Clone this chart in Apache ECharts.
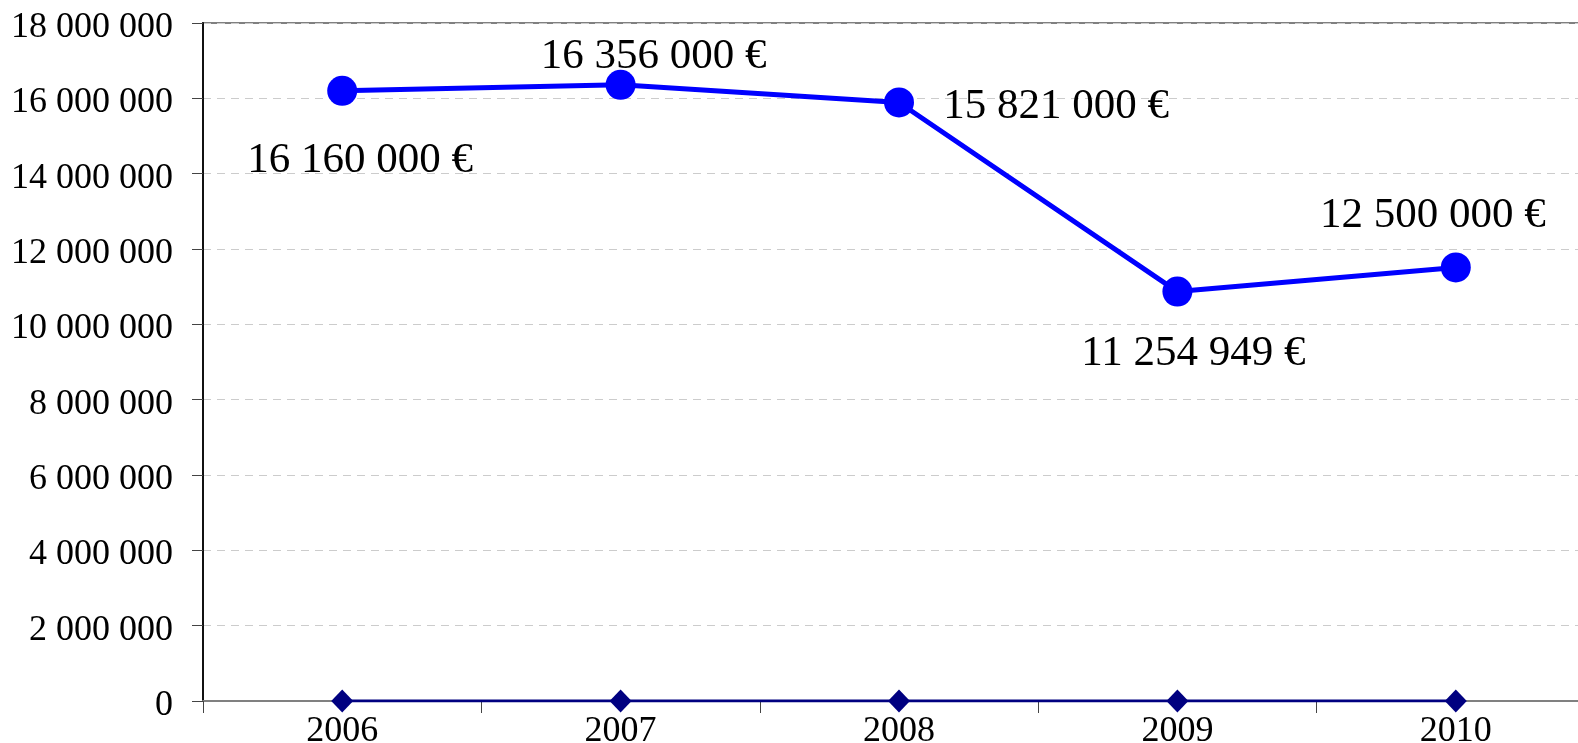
<!DOCTYPE html>
<html>
<head>
<meta charset="utf-8">
<script src="https://cdn.jsdelivr.net/npm/echarts@6/dist/echarts.min.js"></script>
<style>
  html, body { margin: 0; padding: 0; background: #fff; overflow: hidden; }
  #chart { width: 1610px; height: 743px; }
</style>
</head>
<body>
<div id="chart"></div>
<script>
// ---- data ----
const categories = ['2006', '2007', '2008', '2009', '2010'];
const amountValues = [16200000, 16360000, 15890000, 10870000, 11510000];
const amountLabels = ['16 160 000 €', '16 356 000 €', '15 821 000 €', '11 254 949 €', '12 500 000 €'];
const baselineValues = [0, 0, 0, 0, 0];
const yMin = 0, yMax = 18000000, yStep = 2000000;

// ---- layout (label placement relative to each point) ----
const labelOffsets = [[18, 70], [33, -28], [157, 4], [16, 62], [-23, -52]];

const FONT = "'Liberation Serif', 'DejaVu Serif', serif";
const fmt = v => String(v).replace(/\B(?=(\d{3})+(?!\d))/g, ' ');

const chart = echarts.init(document.getElementById('chart'), null, { renderer: 'canvas' });
chart.setOption({
  animation: false,
  backgroundColor: '#ffffff',
  grid: {
    left: 203, top: 23, width: 1392, height: 678,
    containLabel: false,
    outerBoundsMode: 'none',
    show: true, borderColor: '#808080', borderWidth: 2, backgroundColor: 'transparent'
  },
  xAxis: {
    type: 'category',
    data: categories,
    boundaryGap: true,
    axisLine: { show: true, lineStyle: { color: '#808080', width: 2 } },
    axisTick: { show: true, length: 12, lineStyle: { color: '#444', width: 1 } },
    axisLabel: { fontFamily: FONT, fontSize: 36, color: '#000', margin: 13 },
    splitLine: { show: false }
  },
  yAxis: {
    type: 'value',
    min: yMin, max: yMax, interval: yStep,
    axisLine: { show: true, lineStyle: { color: '#111', width: 2 } },
    axisTick: { show: true, length: 11, lineStyle: { color: '#444', width: 1 } },
    axisLabel: {
      fontFamily: FONT, fontSize: 36, color: '#000', margin: 30, formatter: fmt,
      verticalAlign: 'top', lineHeight: 9
    },
    splitLine: { show: true, lineStyle: { color: '#cccccc', type: [8, 6], width: 1 } }
  },
  series: [
    {
      type: 'line',
      data: baselineValues,
      symbol: 'diamond',
      symbolSize: [22, 23],
      lineStyle: { color: '#000080', width: 3 },
      itemStyle: { color: '#000080' },
      z: 3
    },
    {
      type: 'line',
      data: amountValues.map((v, i) => ({
        value: v,
        label: { offset: labelOffsets[i] }
      })),
      symbol: 'circle',
      symbolSize: 30,
      lineStyle: { color: '#0000ff', width: 5 },
      itemStyle: { color: '#0000ff' },
      label: {
        show: true,
        position: 'inside',
        align: 'center',
        verticalAlign: 'middle',
        fontFamily: FONT,
        fontSize: 43,
        color: '#000',
        formatter: p => amountLabels[p.dataIndex]
      },
      z: 4
    }
  ]
});
</script>
</body>
</html>
